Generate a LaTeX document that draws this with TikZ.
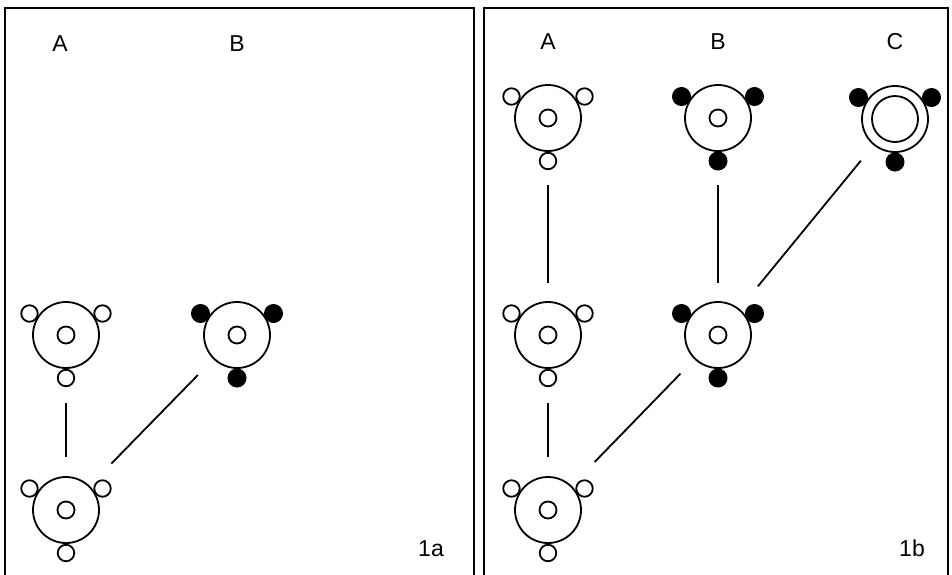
\documentclass[tikz,border=0pt]{standalone}
\usepackage{fontspec}
\setmainfont{Liberation Sans}
\usetikzlibrary{calc}
\tikzset{
  big/.style={circle,draw,line width=1.8pt,minimum size=66pt,inner sep=0pt,fill=white},
  cen/.style={circle,draw,line width=1.8pt,minimum size=17pt,inner sep=0pt},
  ring/.style={circle,draw,line width=1.8pt,minimum size=46pt,inner sep=0pt},
  popen/.style={circle,draw,line width=1.8pt,minimum size=16.5pt,inner sep=0pt,fill=white},
  pfull/.style={circle,draw,line width=1pt,minimum size=18pt,inner sep=0pt,fill=black},
  lab/.style={font=\fontsize{23}{27}\selectfont,inner sep=0pt},
  bond/.style={line width=1.8pt},
  frame/.style={line width=1.8pt}
}
% name, x, y, peripheral style, centre style
\newcommand\molec[5]{%
  \node[big] (#1) at (#2,#3) {};
  \node[#5] (#1c) at (#1) {};
  \node[#4] (#1ul) at ($(#1)+(-36.5,-21.5)$) {};
  \node[#4] (#1ur) at ($(#1)+(36.5,-21.5)$) {};
  \node[#4] (#1b) at ($(#1)+(0,43)$) {};
}
\begin{document}
\begin{tikzpicture}[x=1pt,y=-1pt]
\useasboundingbox (0,0) rectangle (952,574);
% frames
\draw[frame] (5,575) -- (5,8) -- (474,8) -- (474,575);
\draw[frame] (484,575) -- (484,8) -- (948,8) -- (948,575);
% panel 1a
\node[lab] (la) at (60,44) {A};
\node[lab] (lb) at (237,44) {B};
\molec{pa1}{66}{335}{popen}{cen}
\molec{pb1}{237}{335}{pfull}{cen}
\molec{pa2}{66}{510}{popen}{cen}
\draw[bond,shorten <=34pt,shorten >=19pt] (pa1) -- (pa2);
\draw[bond,shorten <=22pt,shorten >=31pt] (pb1) -- (pa2);
\node[lab] (l1a) at (431,549) {1a};
% panel 1b
\node[lab] (ra) at (548,42) {A};
\node[lab] (rb) at (718,42) {B};
\node[lab] (rc) at (895,42) {C};
\molec{qa1}{548}{118}{popen}{cen}
\molec{qb1}{718}{118}{pfull}{cen}
\molec{qc1}{895}{119}{pfull}{ring}
\molec{qa2}{548}{335}{popen}{cen}
\molec{qb2}{718}{335}{pfull}{cen}
\molec{qa3}{548}{510}{popen}{cen}
\draw[bond,shorten <=33pt,shorten >=18pt] (qa1) -- (qa2);
\draw[bond,shorten <=33pt,shorten >=18pt] (qb1) -- (qb2);
\draw[bond,shorten <=20pt,shorten >=29pt] (qc1) -- (qb2);
\draw[bond,shorten <=20pt,shorten >=33pt] (qb2) -- (qa3);
\draw[bond,shorten <=34pt,shorten >=19pt] (qa2) -- (qa3);
\node[lab] (l1b) at (912,548) {1b};
\end{tikzpicture}
\end{document}
